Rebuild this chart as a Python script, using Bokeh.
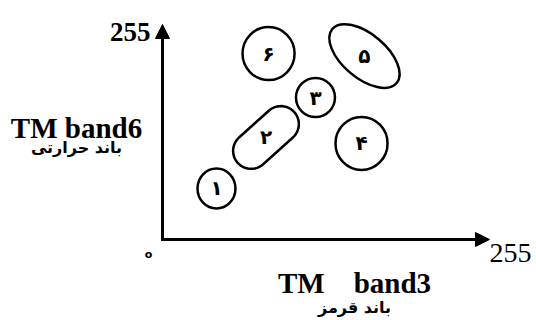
import math
from bokeh.plotting import figure
from bokeh.models import Range1d, Arrow, NormalHead, Label, ColumnDataSource
from bokeh.embed import file_html
from bokeh.resources import INLINE
from bokeh.core.properties import value

# ---- data: spectral clusters in TM band3 (x) vs TM band6 (y), 0..255 ----
cluster_labels = ["\u06f1", "\u06f2", "\u06f3", "\u06f4", "\u06f5", "\u06f6"]
band3_center = [42.1, 80.7, 119.3, 155.2, 157.5, 82.7]
band6_center = [60.5, 121.0, 168.4, 113.9, 217.6, 220.6]
band3_spread = [29.6, 59.3, 30.4, 40.6, 65.5, 40.6]
band6_spread = [47.4, 42.7, 46.3, 62.9, 52.2, 62.9]
cluster_angle_deg = [0, 42, 0, 0, -40, 0]
cluster_shape = ["ellipse", "capsule", "ellipse", "ellipse", "ellipse", "ellipse"]
axis_min = 0
axis_max = 255
x_title = "TM\u00a0\u00a0\u00a0\u00a0band3"
x_title_fa = "باند قرمز"
y_title = "TM band6"
y_title_fa = "باند حرارتی"
origin_label = "o"

# ---- layout ----
W, H = 536, 320
ox, oy = 162, 239      # origin (canvas px)
ex, ty = 489, 24       # x-axis end, y-axis end (canvas px)
sx = (ex - ox) / axis_max
sy = (oy - ty) / axis_max

p = figure(width=W, height=H, output_backend="svg", toolbar_location=None,
           x_range=Range1d(-ox / sx, (W - ox) / sx),
           y_range=Range1d(-(H - oy) / sy, axis_max + ty / sy),
           x_axis_type=None, y_axis_type=None, min_border=0)
p.grid.visible = False
p.outline_line_color = None
p.background_fill_color = "white"


def dx(X):
    return (X - ox) / sx


def dy(Y):
    return (oy - Y) / sy


# elliptical clusters
ell = [i for i, s in enumerate(cluster_shape) if s == "ellipse"]
src = ColumnDataSource(dict(x=[band3_center[i] for i in ell],
                            y=[band6_center[i] for i in ell],
                            w=[band3_spread[i] for i in ell],
                            h=[band6_spread[i] for i in ell],
                            a=[math.radians(cluster_angle_deg[i]) for i in ell]))
p.ellipse(x="x", y="y", width="w", height="h", angle="a", source=src,
          fill_color=None, line_color="black", line_width=2.5)

# capsule-shaped clusters (length along the rotated axis, rounded ends)
for i, s in enumerate(cluster_shape):
    if s != "capsule":
        continue
    half_len = band3_spread[i] * sx / 2       # px
    r = band6_spread[i] * sy / 2              # px
    h = half_len - r
    th = math.radians(cluster_angle_deg[i])
    pts = []
    n = 24
    for k in range(n + 1):
        f = -math.pi / 2 + math.pi * k / n
        pts.append((h + r * math.cos(f), r * math.sin(f)))
    for k in range(n + 1):
        f = math.pi / 2 + math.pi * k / n
        pts.append((-h + r * math.cos(f), r * math.sin(f)))
    xs = [band3_center[i] + (u * math.cos(th) - v * math.sin(th)) / sx for u, v in pts]
    ys = [band6_center[i] + (u * math.sin(th) + v * math.cos(th)) / sy for u, v in pts]
    p.patch(xs, ys, fill_color=None, line_color="black", line_width=2.5)

lab = ColumnDataSource(dict(x=band3_center, y=band6_center, t=cluster_labels))
p.text(x="x", y="y", text="t", source=lab, text_align="center",
       text_baseline="middle", text_font=value("DejaVu Sans"),
       text_font_size="20px", text_font_style="bold", text_color="black")

# axes as arrows
for (x1, y1) in [(axis_max, 0), (0, axis_max)]:
    p.add_layout(Arrow(x_start=0, y_start=0, x_end=x1, y_end=y1,
                       line_width=3, line_color="black", line_cap="square",
                       end=NormalHead(size=14, fill_color="black",
                                      line_color="black", line_width=1)))

serif = "Liberation Serif"
p.add_layout(Label(x=dx(150), y=dy(31), text=str(axis_max), text_font=serif,
                   text_font_style="bold", text_font_size="27px",
                   text_color="black",
                   text_align="right", text_baseline="alphabetic"))
p.add_layout(Label(x=dx(489), y=dy(252), text=str(axis_max), text_font=serif,
                   text_font_size="28px", text_align="left", text_color="black",
                   text_baseline="alphabetic"))
p.add_layout(Label(x=dx(76), y=dy(127), text=y_title, text_font=serif,
                   text_font_style="bold", text_font_size="29px",
                   text_color="black",
                   text_align="center", text_baseline="alphabetic"))
p.add_layout(Label(x=dx(76), y=dy(147), text=y_title_fa, text_font="DejaVu Sans",
                   text_font_size="16px", text_font_style="bold", text_color="black",
                   text_align="center", text_baseline="alphabetic"))
p.add_layout(Label(x=dx(354), y=dy(282), text=x_title, text_font=serif,
                   text_font_style="bold", text_font_size="29px",
                   text_color="black",
                   text_align="center", text_baseline="alphabetic"))
p.add_layout(Label(x=dx(354), y=dy(307), text=x_title_fa, text_font="DejaVu Sans",
                   text_font_size="16px", text_font_style="bold", text_color="black",
                   text_align="center", text_baseline="alphabetic"))
p.add_layout(Label(x=dx(148), y=dy(254), text=origin_label, text_font="DejaVu Sans",
                   text_font_size="11px", text_font_style="bold",
                   text_color="black", text_align="center",
                   text_baseline="middle"))

open("out.html", "w").write(file_html(p, INLINE))
